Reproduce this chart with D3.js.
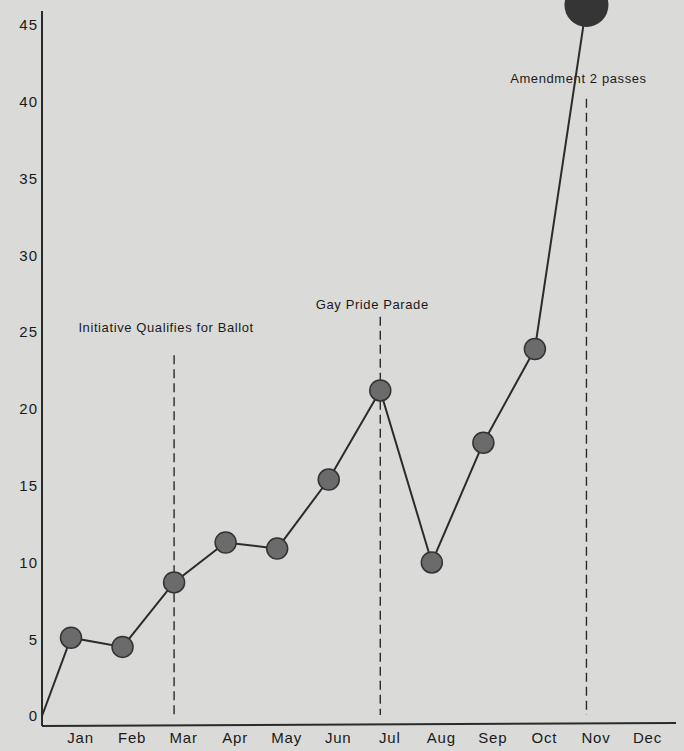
<!DOCTYPE html>
<html>
<head>
<meta charset="utf-8">
<script src="https://cdn.jsdelivr.net/npm/d3@7"></script>
<style>
    html, body { margin: 0; padding: 0; background: #dadad8; }
    svg { display: block; }
    text { font-family: "Liberation Sans", Arial, sans-serif; fill: #1a1a1a; }
</style>
</head>
<body>
<svg id="chart"></svg>
<script>
const width = 684,
    height = 751,
    months = ["Jan", "Feb", "Mar", "Apr", "May", "Jun", "Jul", "Aug", "Sep", "Oct", "Nov", "Dec"],
    // reported incidents per month (Nov is the big one)
    counts = [5.1, 4.5, 8.7, 11.3, 10.9, 15.4, 21.2, 10.0, 17.8, 23.9, 46.3],
    yTicks = [0, 5, 10, 15, 20, 25, 30, 35, 40, 45],
    eventMonths = ["Mar", "Jul", "Nov"],
    eventLabels = ["Initiative Qualifies for Ballot", "Gay Pride Parade", "Amendment 2 passes"],
    eventLevels = [23.5, 26.0, 40.2],   // where each dashed line starts
    eventTextLevels = [25.0, 26.5, 41.2];

const originX = 42,
    axisY = 725;

const svg = d3.select("#chart")
    .attr("width", width)
    .attr("height", height);

const x = d3.scalePoint()
    .domain(months)
    .range([80, 647]);

// points sit a little left of the month labels
const px = m => x(m) - 9;

const y = d3.scaleLinear()
    .domain([0, 45])
    .range([716, 25]);

// axes
svg.append("line")
    .attr("x1", originX).attr("x2", originX)
    .attr("y1", 11).attr("y2", axisY + 1)
    .attr("stroke", "#2a2a2a").attr("stroke-width", 2);

svg.append("line")
    .attr("x1", originX).attr("x2", 676)
    .attr("y1", axisY + 1).attr("y2", axisY - 2)
    .attr("stroke", "#2a2a2a").attr("stroke-width", 2);

const yAxis = svg.append("g")
    .attr("transform", `translate(${originX},0)`)
    .call(d3.axisLeft(y).tickValues(yTicks).tickSize(0).tickPadding(4));
yAxis.select(".domain").remove();
yAxis.selectAll("text")
    .attr("font-size", 15)
    .attr("letter-spacing", 1)
    .attr("font-family", "Liberation Sans, Arial, sans-serif")
    .attr("fill", "#1a1a1a");

const xAxis = svg.append("g")
    .attr("transform", `translate(0,${axisY})`)
    .call(d3.axisBottom(x).tickSize(0).tickPadding(7));
xAxis.select(".domain").remove();
xAxis.selectAll("text")
    .attr("font-size", 15)
    .attr("letter-spacing", 0.8)
    .attr("font-family", "Liberation Sans, Arial, sans-serif")
    .attr("fill", "#1a1a1a");

// event markers
const events = eventMonths.map((m, i) => ({
    month: m, label: eventLabels[i], level: eventLevels[i], textLevel: eventTextLevels[i]
}));

const ev = svg.selectAll(".event")
    .data(events)
    .enter().append("g")
    .attr("class", "event");

ev.append("line")
    .attr("x1", d => px(d.month)).attr("x2", d => px(d.month))
    .attr("y1", d => y(d.level)).attr("y2", y(0) - 1)
    .attr("stroke", "#2a2a2a")
    .attr("stroke-width", 1.4)
    .attr("stroke-dasharray", "9,5");

ev.append("text")
    .attr("x", d => px(d.month) - 8)
    .attr("y", d => y(d.textLevel))
    .attr("text-anchor", "middle")
    .attr("font-size", 13)
    .attr("letter-spacing", 0.6)
    .text(d => d.label);

// the line, starting at the origin
const linePoints = [[originX, y(0)]].concat(
    counts.map((c, i) => [px(months[i]), y(c)])
);

svg.append("path")
    .attr("d", d3.line()(linePoints))
    .attr("fill", "none")
    .attr("stroke", "#2b2b2b")
    .attr("stroke-width", 2);

const last = counts.length - 1;
svg.selectAll(".dot")
    .data(counts)
    .enter().append("circle")
    .attr("class", "dot")
    .attr("cx", (d, i) => px(months[i]))
    .attr("cy", d => y(d))
    .attr("r", (d, i) => i === last ? 22 : 10.5)
    .attr("fill", (d, i) => i === last ? "#353535" : "#6b6b6b")
    .attr("stroke", "#333")
    .attr("stroke-width", (d, i) => i === last ? 0 : 1.5);
</script>
</body>
</html>
